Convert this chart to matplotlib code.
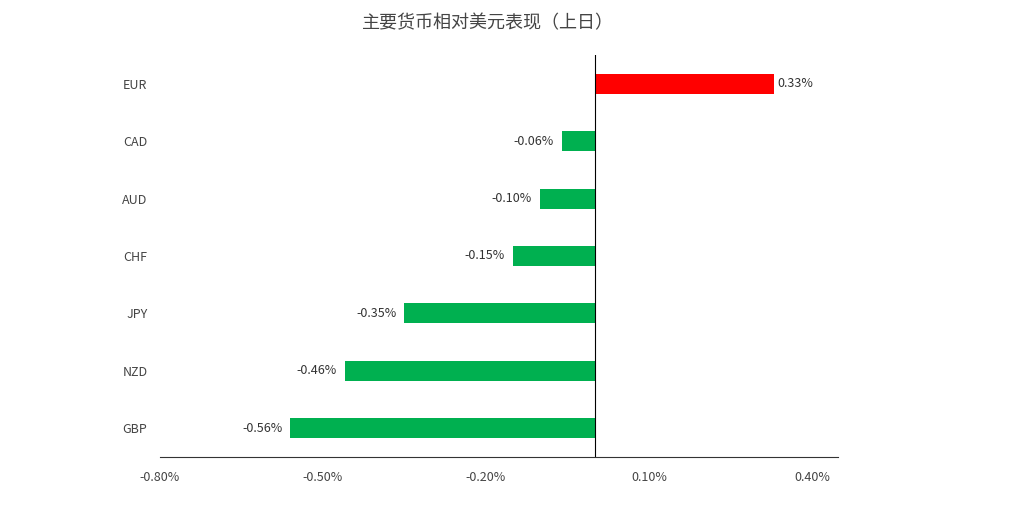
import matplotlib
matplotlib.use("Agg")
import matplotlib.pyplot as plt

plt.rcParams['font.family'] = ['Noto Sans CJK SC', 'DejaVu Sans']

currencies = ["EUR", "CAD", "AUD", "CHF", "JPY", "NZD", "GBP"]
values = [0.33, -0.06, -0.10, -0.15, -0.35, -0.46, -0.56]
xticks = [-0.80, -0.50, -0.20, 0.10, 0.40]
title = "主要货币相对美元表现（上日）"

fig = plt.figure(figsize=(10.25, 5.25), dpi=100)
ax = fig.add_axes([0.156, 0.13, 0.662, 0.765])
ys = list(range(len(currencies)))[::-1]
colors = ["#ff0000" if v > 0 else "#00b050" for v in values]
ax.barh(ys, values, height=0.35, color=colors)
for y, v in zip(ys, values):
    if v > 0:
        ax.text(v + 0.006, y, f"{v:.2f}%", va="center", ha="left", fontsize=9, color="#333333")
    else:
        ax.text(v - 0.015, y, f"{v:.2f}%", va="center", ha="right", fontsize=9, color="#333333")
ax.set_yticks(ys)
ax.set_yticklabels(currencies, fontsize=9, color="#444444")
ax.set_xticks(xticks)
ax.set_xticklabels([f"{t:.2f}%" for t in xticks], fontsize=9, color="#444444")
ax.set_xlim(-0.80, 0.4486)
ax.set_ylim(-0.5, 6.5)
ax.axvline(0, color="black", lw=0.8)
for s in ["top", "right", "left"]:
    ax.spines[s].set_visible(False)
ax.spines["bottom"].set_color("#333333")
ax.spines["bottom"].set_linewidth(0.8)
ax.tick_params(axis="y", length=0, pad=9)
ax.tick_params(axis="x", length=0, pad=10)
fig.text(0.476, 0.955, title, ha="center", va="center", fontsize=13, color="#444444")
fig.savefig("out.png", dpi=100)
